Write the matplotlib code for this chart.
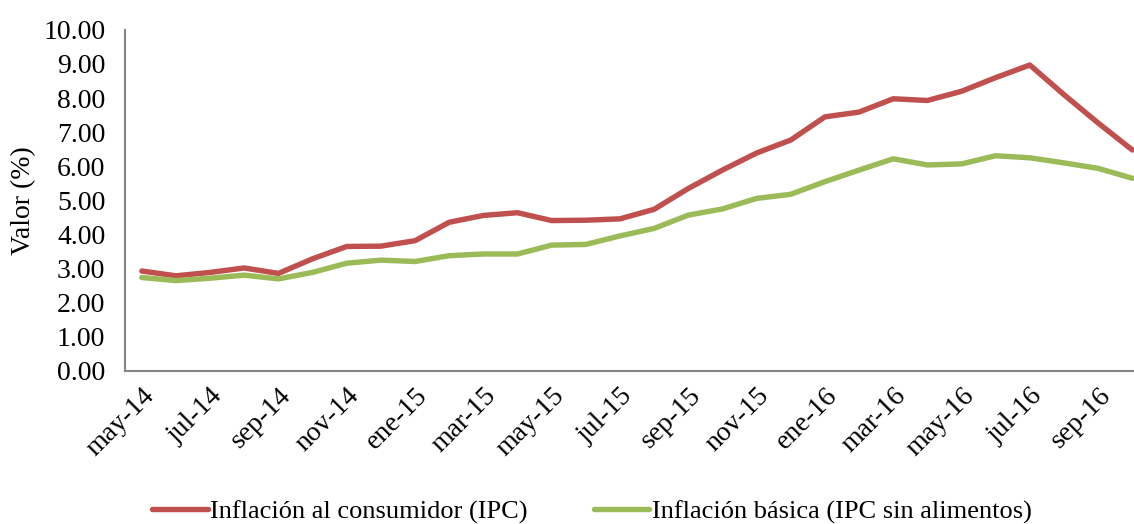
import numpy as np
import matplotlib
matplotlib.use("Agg")
import matplotlib.pyplot as plt

# monthly series, may-14 .. oct-16
months = ["may-14", "jun-14", "jul-14", "ago-14", "sep-14", "oct-14", "nov-14", "dic-14",
          "ene-15", "feb-15", "mar-15", "abr-15", "may-15", "jun-15", "jul-15", "ago-15",
          "sep-15", "oct-15", "nov-15", "dic-15", "ene-16", "feb-16", "mar-16", "abr-16",
          "may-16", "jun-16", "jul-16", "ago-16", "sep-16", "oct-16"]
ipc = [2.93, 2.79, 2.89, 3.02, 2.86, 3.29, 3.65, 3.66, 3.82, 4.36, 4.56, 4.64,
       4.41, 4.42, 4.46, 4.74, 5.35, 5.89, 6.39, 6.77, 7.45, 7.59, 7.98, 7.93,
       8.20, 8.60, 8.97, 8.10, 7.27, 6.48]
basica = [2.74, 2.65, 2.72, 2.81, 2.70, 2.89, 3.16, 3.25, 3.21, 3.38, 3.43, 3.43,
          3.69, 3.71, 3.96, 4.18, 4.57, 4.75, 5.06, 5.18, 5.55, 5.89, 6.22, 6.04,
          6.07, 6.31, 6.25, 6.10, 5.94, 5.65]
labels = ["Inflación al consumidor (IPC)", "Inflación básica (IPC sin alimentos)"]

plt.rcParams['font.family'] = ['Liberation Serif', 'DejaVu Serif']

fig = plt.figure(figsize=(11.34, 5.24), dpi=100)
ax = fig.add_axes([0.110, 0.292, 0.89, 0.651])

x = np.arange(len(months))
ax.plot(x, ipc, color='#C0504D', lw=3.9, label=labels[0], solid_capstyle='round')
ax.plot(x, basica, color='#9BBB59', lw=3.9, label=labels[1], solid_capstyle='round')

ax.set_xlim(-0.5, 29.05)
ax.set_ylim(0, 10)
ax.set_yticks(np.arange(0, 10.01, 1.0))
ax.set_yticklabels(["%.2f" % v for v in np.arange(0, 10.01, 1.0)], fontsize=20)
ax.set_xticks(x[::2])
ax.set_xticklabels(months[::2], rotation=45, ha='right', rotation_mode='anchor', fontsize=20)
ax.tick_params(length=0)
ax.tick_params(axis='y', pad=14)
ax.tick_params(axis='x', pad=9)
ax.set_ylabel("Valor (%)", fontsize=20)
ax.yaxis.set_label_coords(-0.088, 0.5)

for s in ['top', 'right']:
    ax.spines[s].set_visible(False)
for s in ['left', 'bottom']:
    ax.spines[s].set_color('#868686')
    ax.spines[s].set_linewidth(1.5)

fig.legend(loc='lower center', bbox_to_anchor=(0.522, -0.045), ncol=2, frameon=False,
           fontsize=19, handlelength=2.1, handletextpad=0.1, columnspacing=2.5)

fig.savefig("out.png", dpi=100)
